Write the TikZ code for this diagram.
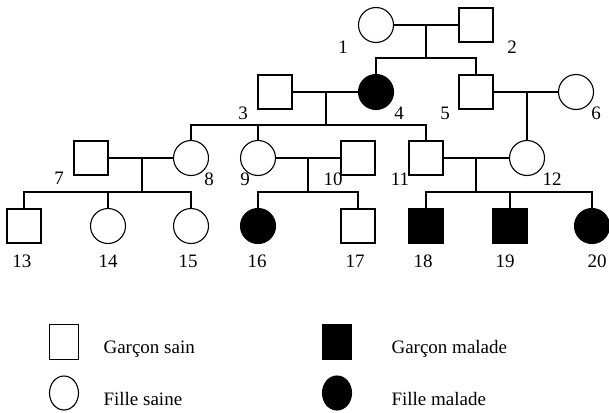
\documentclass[tikz,border=0pt]{standalone}
\usepackage{fontspec}
\setmainfont{Liberation Serif}
\usetikzlibrary{shapes.geometric}
\tikzset{
	every node/.style={font=\fontsize{19}{23}\selectfont, inner sep=0pt},
	male/.style={draw, rectangle, minimum size=34pt},
	female/.style={draw, circle, minimum size=35pt},
	sick/.style={fill=black},
	keysq/.style={draw, rectangle, minimum width=29pt, minimum height=35pt},
	keyci/.style={draw, ellipse, minimum width=29pt, minimum height=34pt},
}
\begin{document}
\begin{tikzpicture}[x=1pt, y=-1pt, line width=1.1pt]
		\useasboundingbox (0,0) rectangle (609,412);

		\node[female] (p1) at (376, 25) {};
		\node[male] (p2) at (476, 25) {};
		\node (n1) at (343, 47) {1};
		\node (n2) at (512, 47) {2};
		\coordinate (m12) at (426, 25);
		\coordinate (s12) at (426, 58);
		\draw (p1) -- (p2);
		\draw (m12) -- (s12);

		\node[male] (p3) at (275, 92) {};
		\node[female, sick] (p4) at (376, 92) {};
		\node[male] (p5) at (476, 92) {};
		\node[female] (p6) at (576, 92) {};
		\node (n3) at (243, 113) {3};
		\node (n4) at (399, 113) {4};
		\node (n5) at (445, 113) {5};
		\node (n6) at (596, 113) {6};
		\draw (p4.north) |- (s12) -| (p5.north);
		\coordinate (m34) at (326, 92);
		\coordinate (s34) at (326, 125);
		\coordinate (m56) at (527, 92);
		\draw (p3) -- (p4);
		\draw (m34) -- (s34);
		\draw (p5) -- (p6);

		\node[male] (p7) at (91, 158) {};
		\node[female] (p8) at (191, 158) {};
		\node[female] (p9) at (258, 158) {};
		\node[male] (p10) at (358, 158) {};
		\node[male] (p11) at (426, 158) {};
		\node[female] (p12) at (527, 158) {};
		\node (n7) at (59, 178) {7};
		\node (n8) at (209, 179) {8};
		\node (n9) at (245, 179) {9};
		\node (n10) at (333, 179) {10};
		\node (n11) at (400, 179) {11};
		\node (n12) at (552, 179) {12};
		\draw (p8.north) |- (s34) -| (p11.north);
		\draw (p9.north) -- (p9.north |- s34);
		\draw (m56) -- (p12.north);

		\coordinate (m78) at (142, 158);
		\coordinate (s78) at (142, 192);
		\coordinate (m910) at (308, 158);
		\coordinate (s910) at (308, 192);
		\coordinate (m1112) at (476, 158);
		\coordinate (s1112) at (476, 192);
		\draw (p7) -- (p8);
		\draw (p9) -- (p10);
		\draw (p11) -- (p12);
		\draw (m78) -- (s78);
		\draw (m910) -- (s910);
		\draw (m1112) -- (s1112);

		\node[male] (p13) at (24, 226) {};
		\node[female] (p14) at (108, 226) {};
		\node[female] (p15) at (191, 226) {};
		\node[female, sick] (p16) at (258, 226) {};
		\node[male] (p17) at (358, 226) {};
		\node[male, sick] (p18) at (426, 226) {};
		\node[male, sick] (p19) at (510, 226) {};
		\node[female, sick] (p20) at (592, 226) {};
		\node (n13) at (22, 261) {13};
		\node (n14) at (108, 261) {14};
		\node (n15) at (188, 261) {15};
		\node (n16) at (257, 261) {16};
		\node (n17) at (355, 261) {17};
		\node (n18) at (423, 261) {18};
		\node (n19) at (505, 261) {19};
		\node (n20) at (597, 261) {20};
		\draw (p13.north) |- (s78) -| (p15.north);
		\draw (p14.north) -- (p14.north |- s78);
		\draw (p16.north) |- (s910) -| (p17.north);
		\draw (p18.north) |- (s1112) -| (p20.north);
		\draw (p19.north) -- (p19.north |- s1112);

		\node[keysq] (k1) at (64, 342) {};
		\node[keyci] (k2) at (64, 393) {};
		\node[keysq, sick] (k3) at (337, 342) {};
		\node[keyci, sick] (k4) at (337, 393) {};
		\node[anchor=base west] (t1) at (103, 353) {Garçon sain};
		\node[anchor=base west] (t2) at (103, 405) {Fille saine};
		\node[anchor=base west] (t3) at (391, 353) {Garçon malade};
		\node[anchor=base west] (t4) at (391, 405) {Fille malade};
	\end{tikzpicture}
\end{document}
